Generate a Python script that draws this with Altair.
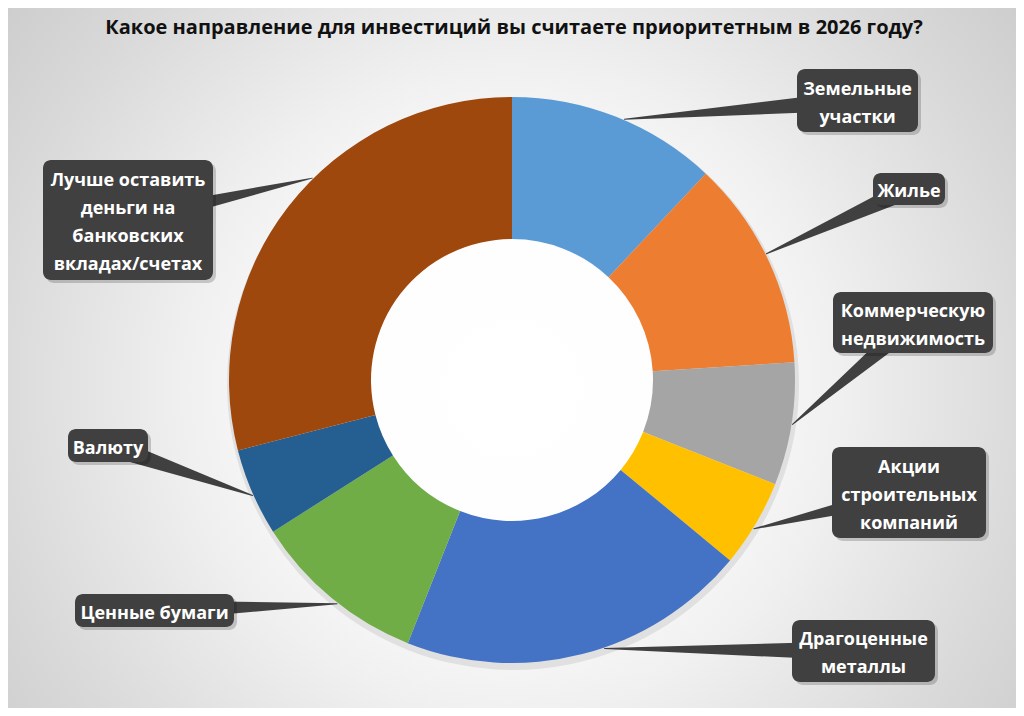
import altair as alt
import pandas as pd

TITLE = 'Какое направление для инвестиций вы считаете приоритетным в 2026 году?'

labels = ['Земельные\nучастки', 'Жилье', 'Коммерческую\nнедвижимость',
          'Акции\nстроительных\nкомпаний', 'Драгоценные\nметаллы', 'Ценные бумаги',
          'Валюту', 'Лучше оставить\nденьги на\nбанковских\nвкладах/счетах']
values = [12, 12, 7, 5, 20, 10, 5, 29]
colors = ['#5B9BD5', '#ED7D31', '#A5A5A5', '#FFC000', '#4472C4', '#70AD47', '#255E91', '#9E480E']

# callout boxes (page pixels) and small angle nudges of the pointer tips
box_x0 = [797, 873, 833, 832, 792, 75, 68, 43]
box_y0 = [69, 173, 292, 447, 620, 594, 429, 160]
box_x1 = [918, 945, 993, 986, 935, 234, 148, 213]
box_y1 = [132, 205, 353, 538, 682, 627, 462, 280]
tip_shift = [1.7, -1.2, 0, 1, -4.6, -1.6, -0.6, 7.5]

M = 8  # page margin
W, H = 1008, 700
CX, CY = 512 - M, 380 - M
R_OUT, R_IN = 283, 141
BOX = '#404040'
LH = 28

df = pd.DataFrame({
    'label': labels,
    'value': values,
    'idx': range(len(labels)),
    'x0': [v - M for v in box_x0],
    'y0': [v - M for v in box_y0],
    'x1': [v - M for v in box_x1],
    'y1': [v - M for v in box_y1],
    'shift': tip_shift,
})

base = alt.Chart(df)

bg_fill = {
    'gradient': 'radial',
    'x1': 0.5, 'y1': 0.53, 'r1': 0,
    'x2': 0.5, 'y2': 0.53, 'r2': 0.72,
    'stops': [
        {'offset': 0, 'color': '#ffffff'},
        {'offset': 0.25, 'color': '#fdfdfd'},
        {'offset': 0.45, 'color': '#f0f0f0'},
        {'offset': 0.72, 'color': '#d9d9d9'},
        {'offset': 1, 'color': '#c4c4c4'},
    ],
}
background = alt.Chart(pd.DataFrame({'k': [0]})).mark_rect(fill=bg_fill).encode(
    x=alt.value(0), x2=alt.value(W), y=alt.value(0), y2=alt.value(H)
)

ring_shadow = base.mark_arc(innerRadius=R_IN + 6, outerRadius=R_OUT + 3, color='#000', opacity=0.08).encode(
    theta=alt.Theta('value:Q', stack=True),
    order=alt.Order('idx:Q'),
    x=alt.value(CX + 1),
    y=alt.value(CY + 4),
)

donut = base.mark_arc(innerRadius=R_IN, outerRadius=R_OUT).encode(
    theta=alt.Theta('value:Q', stack=True),
    color=alt.Color('label:N', scale=alt.Scale(domain=labels, range=colors), legend=None),
    order=alt.Order('idx:Q'),
    x=alt.value(CX),
    y=alt.value(CY),
)

pointers = (
    base.transform_window(cum='sum(value)', sort=[alt.SortField('idx')], frame=[None, 0])
    .transform_joinaggregate(total='sum(value)')
    .transform_calculate(mid='(datum.cum - datum.value / 2) / datum.total * 2 * PI + datum.shift * PI / 180')
    .transform_calculate(
        tip_x=f'{CX} + {R_OUT + 1} * sin(datum.mid)',
        tip_y=f'{CY} - {R_OUT + 1} * cos(datum.mid)',
        base_x='(datum.x0 + datum.x1) / 2',
        base_y='(datum.y0 + datum.y1) / 2',
    )
    .transform_fold(['tip_x', 'base_x'], as_=['end', 'px'])
    .transform_calculate(
        py="datum.end == 'tip_x' ? datum.tip_y : datum.base_y",
        w="datum.end == 'tip_x' ? 0 : 20",
        ord="datum.end == 'tip_x' ? 1 : 0",
    )
    .mark_trail(color=BOX)
    .encode(
        x=alt.X('px:Q', scale=None),
        y=alt.Y('py:Q', scale=None),
        size=alt.Size('w:Q', scale=None, legend=None),
        detail='label:N',
        order=alt.Order('ord:Q'),
    )
)

box_shadow = base.transform_calculate(
    sx0='datum.x0 + 3', sx1='datum.x1 + 3', sy0='datum.y0 + 3', sy1='datum.y1 + 3'
).mark_rect(cornerRadius=8, color='#000', opacity=0.18).encode(
    x=alt.X('sx0:Q', scale=None), x2='sx1:Q',
    y=alt.Y('sy0:Q', scale=None), y2='sy1:Q',
)

boxes = base.mark_rect(cornerRadius=8, color=BOX).encode(
    x=alt.X('x0:Q', scale=None), x2='x1:Q',
    y=alt.Y('y0:Q', scale=None), y2='y1:Q',
)

texts = base.transform_calculate(
    nlines="length(split(datum.label, '\\n'))"
).transform_calculate(
    cx='(datum.x0 + datum.x1) / 2',
    cy=f'(datum.y0 + datum.y1) / 2 - (datum.nlines - 1) * {LH / 2} + 3',
).mark_text(
    font='Open Sans', fontWeight='bold', fontSize=18, color='white',
    lineBreak='\n', lineHeight=LH, align='center', baseline='middle'
).encode(
    x=alt.X('cx:Q', scale=None),
    y=alt.Y('cy:Q', scale=None),
    text='label:N',
)

title = alt.Chart(pd.DataFrame({'t': [TITLE]})).mark_text(
    font='Open Sans', fontWeight='bold', fontSize=20, color='#111', align='center', baseline='middle'
).encode(x=alt.value(514 - M), y=alt.value(28 - M), text='t:N')

chart = (
    alt.layer(background, ring_shadow, donut, pointers, box_shadow, boxes, texts, title)
    .properties(width=W, height=H, padding=0, autosize='none')
    .configure_view(stroke=None)
)

chart.save('out.html', embed_options={'renderer': 'svg', 'actions': False})
